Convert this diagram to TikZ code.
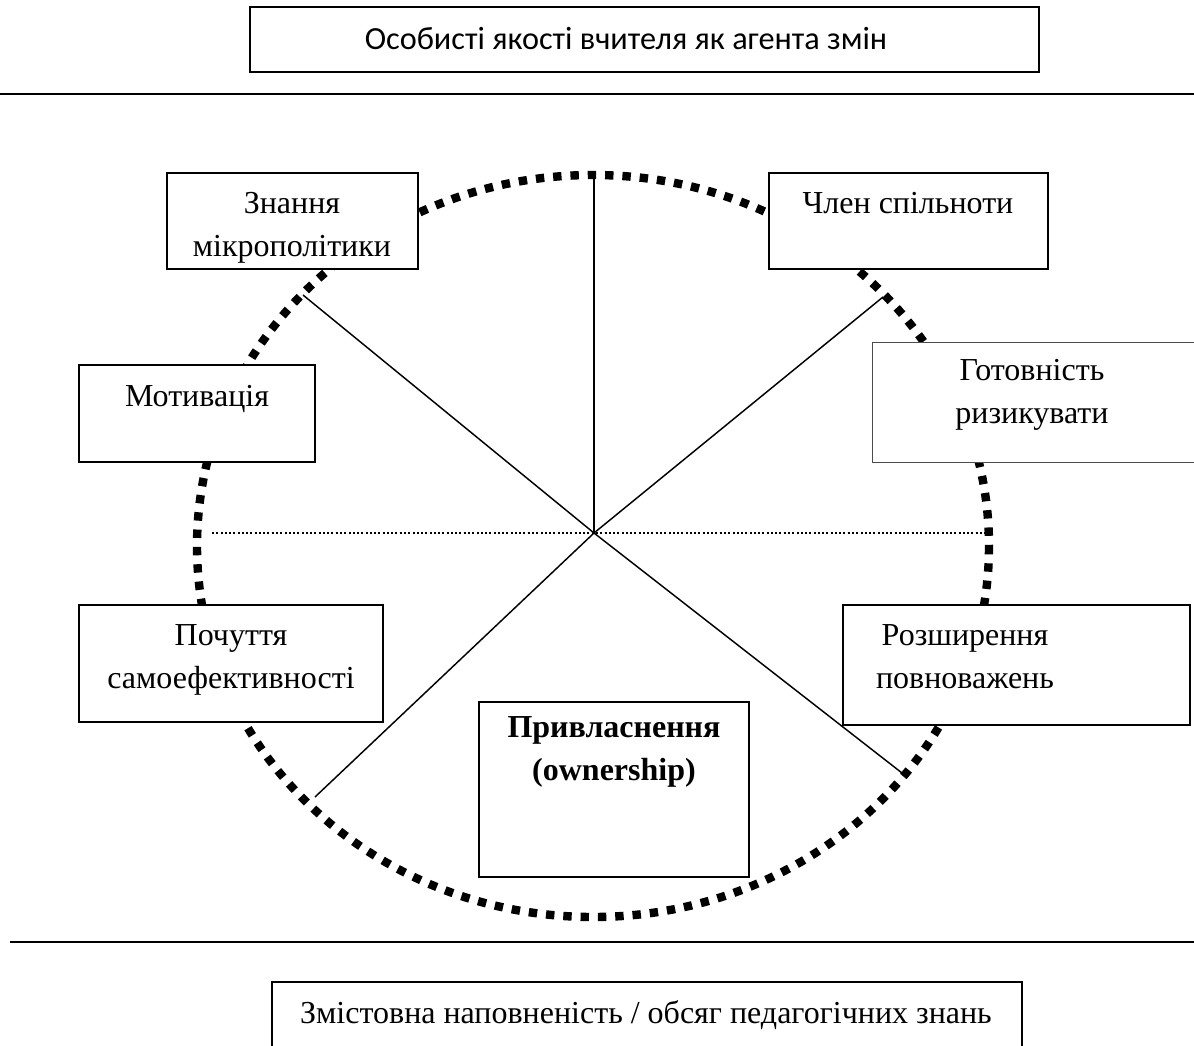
\documentclass[tikz,border=0pt]{standalone}
\usepackage{fontspec}
\setmainfont{Liberation Serif}
\newfontfamily\calibrifont{Carlito}
\usetikzlibrary{fit}
\begin{document}
\begin{tikzpicture}[x=0.75pt,y=-0.75pt,
  box/.style={draw, line width=1.1pt, fill=white, inner sep=0pt},
  thinbox/.style={draw=black!70, line width=0.7pt, fill=white, inner sep=0pt},
  lbl/.style={font=\fontsize{24}{32}\selectfont, align=center, anchor=base, inner sep=0pt},
  spoke/.style={line width=1.1pt},
  axis/.style={line width=1.1pt, dash pattern=on 1.5pt off 1.7pt},
  ring/.style={line width=6.3pt, dash pattern=on 6.3pt off 6.7pt},
  rule/.style={line width=2pt}]
\clip (0,0) rectangle (1194,1045);
% top
\node[box, fit={(250,7) (1039,72)}] (topbox) {};
\node[anchor=base, inner sep=0pt, font=\calibrifont\fontsize{24.2}{28}\selectfont] (toptext) at (626,50) {Особисті якості вчителя як агента змін};
\coordinate (trl) at (0,94);
\coordinate (trr) at (1194,94);
\draw[rule] (trl) -- (trr);
% bottom
\coordinate (brl) at (10,942);
\coordinate (brr) at (1194,942);
\draw[rule] (brl) -- (brr);
\node[box, fit={(272,982) (1022,1060)}] (botbox) {};
\node[lbl] (bottext) at (646,1023) {Змістовна наповненість / обсяг педагогічних знань};
% ring
\draw[ring] (593,546) ellipse [x radius=396, y radius=371];
% spokes
\coordinate (c) at (594,533);
\coordinate (eN) at (594,173);
\coordinate (eNW) at (303,295);
\coordinate (eNE) at (883,297);
\coordinate (eSW) at (315,797);
\coordinate (eSE) at (902,773);
\coordinate (hl) at (212,533);
\coordinate (hr) at (989,533);
\draw[spoke] (c) -- (eN);
\draw[spoke] (c) -- (eNW);
\draw[spoke] (c) -- (eNE);
\draw[spoke] (c) -- (eSW);
\draw[spoke] (c) -- (eSE);
\draw[axis] (hl) -- (hr);
% boxes
\node[box, fit={(167,173) (418,269)}] (kn) {};
\node[lbl] (knt) at (292,256) {Знання\\мікрополітики};
\node[box, fit={(769,173) (1048,269)}] (cm) {};
\node[lbl] (cmt) at (908,213) {Член спільноти};
\node[thinbox, fit={(872,342) (1200,462)}] (rk) {};
\node[lbl] (rkt) at (1032,423) {Готовність\\ризикувати};
\node[box, fit={(79,365) (315,462)}] (mt) {};
\node[lbl] (mtt) at (197,406) {Мотивація};
\node[box, fit={(79,605) (383,722)}] (se) {};
\node[lbl] (set) at (231,688) {Почуття\\самоефективності};
\node[box, fit={(843,605) (1190,725)}] (em) {};
\node[lbl] (emt) at (965,688) {Розширення\\повноважень};
\node[box, fit={(479,702) (749,877)}] (ow) {};
\node[lbl, font=\bfseries\fontsize{24}{32}\selectfont] (owt) at (614,780) {Привласнення\\(ownership)};
\end{tikzpicture}
\end{document}
